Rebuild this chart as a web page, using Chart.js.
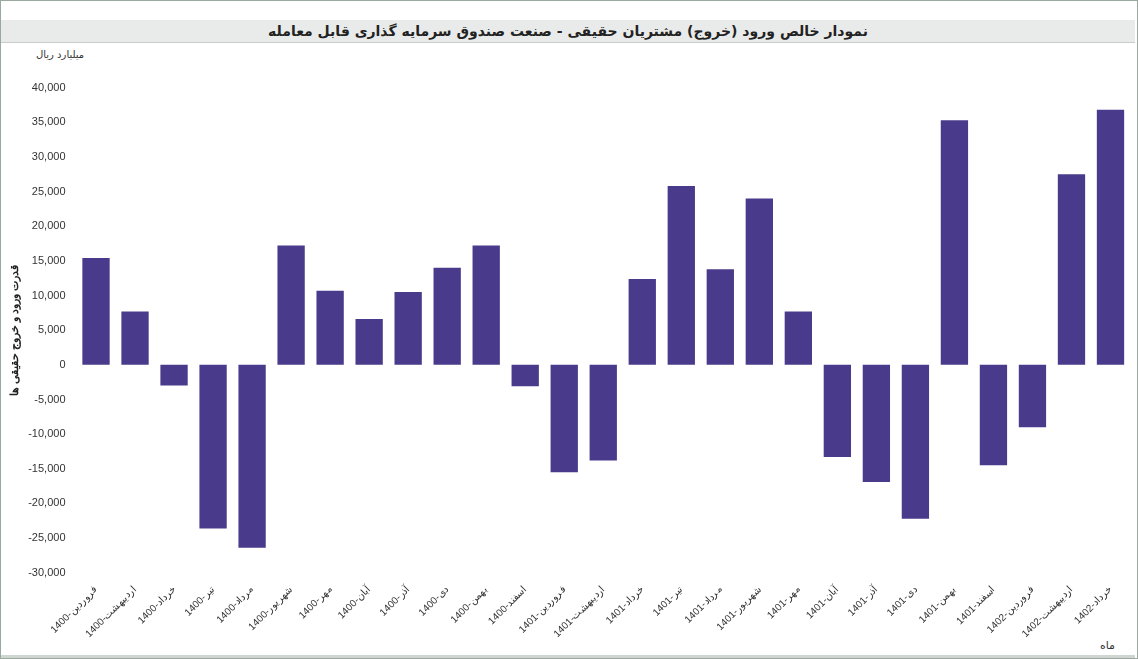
<!DOCTYPE html>
<html>
<head>
<meta charset="utf-8">
<script src="https://cdn.jsdelivr.net/npm/chart.js@4"></script>
<style>
  body { margin: 0; width: 1138px; height: 659px; background: #fff; font-family: "DejaVu Sans", sans-serif; overflow: hidden; }
  .frame { position: absolute; left: 0; top: 0; width: 1136px; height: 657px; border: 1px solid #9aa8a0; }
  .titlebar { position: absolute; left: 1px; top: 20px; width: 1134px; height: 22px; background: #e9ebea; border-bottom: 1px solid #c8ccca;
    text-align: center; font-weight: bold; font-size: 14px; line-height: 22px; color: #222; }
  .unit { position: absolute; left: 36px; top: 49px; font-size: 10px; color: #333; }
  .month { position: absolute; left: 1100px; top: 639px; font-size: 11px; color: #333; }
  .bottombar { position: absolute; left: 1px; top: 655px; width: 1134px; height: 3px; background: #cfd6d2; }
  #wrap { position: absolute; left: 0; top: 78px; width: 1130px; height: 565px; }
</style>
</head>
<body>
<div class="frame"></div>
<div class="titlebar" dir="rtl">نمودار خالص ورود (خروج) مشتریان حقیقی - صنعت صندوق سرمایه گذاری قابل معامله</div>
<div class="unit" dir="rtl">میلیارد ریال</div>
<div class="month">ماه</div>
<div class="bottombar"></div>
<div id="wrap"><canvas id="c"></canvas></div>
<script>
const months = ['فروردین', 'اردیبهشت', 'خرداد', 'تیر', 'مرداد', 'شهریور', 'مهر', 'آبان', 'آذر', 'دی', 'بهمن', 'اسفند'];
const periods = [
  ...months.map(m => '1400-' + m),
  ...months.map(m => '1401-' + m),
  '1402-فروردین', '1402-اردیبهشت', '1402-خرداد'
];
const netFlow = [15400, 7700, -3000, -23600, -26400, 17200, 10700, 6600, 10500, 14000, 17200, -3100,
  -15500, -13800, 12400, 25800, 13800, 24000, 7700, -13300, -16900, -22200, 35300, -14500,
  -9000, 27500, 36800];

new Chart(document.getElementById('c'), {
  type: 'bar',
  data: {
    labels: periods,
    datasets: [{ data: netFlow, backgroundColor: '#4a3a8b', categoryPercentage: 0.7, barPercentage: 1 }]
  },
  options: {
    responsive: true,
    maintainAspectRatio: false,
    animation: false,
    layout: { padding: { top: 0, bottom: 0, left: 4 } },
    plugins: { legend: { display: false }, tooltip: { enabled: false } },
    scales: {
      x: {
        grid: { display: false },
        border: { display: false },
        ticks: { color: '#333', font: { size: 10 }, maxRotation: 45, minRotation: 45, autoSkip: false }
      },
      y: {
        min: -30000, max: 40000,
        grid: { display: false },
        border: { display: false },
        title: { display: true, text: 'قدرت ورود و خروج حقیقی ها', color: '#222', font: { size: 11, weight: 'bold' } },
        ticks: { stepSize: 5000, color: '#333', font: { size: 11 }, callback: v => v.toLocaleString('en-US') }
      }
    }
  }
});
</script>
</body>
</html>
